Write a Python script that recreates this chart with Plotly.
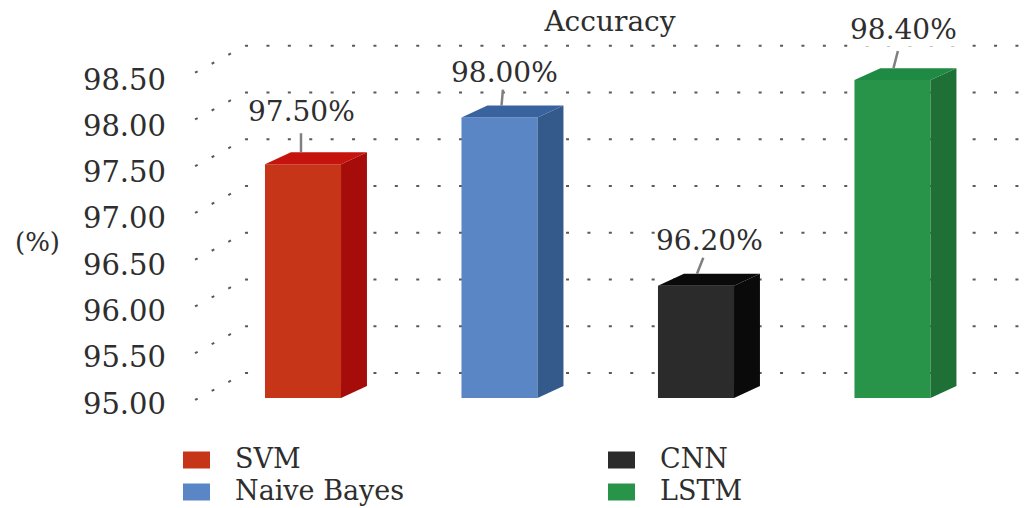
import plotly.graph_objects as go

# Chart data
models = ["SVM", "Naive Bayes", "CNN", "LSTM"]
accuracy = [97.5, 98.0, 96.2, 98.4]
tick_values = [95.0, 95.5, 96.0, 96.5, 97.0, 97.5, 98.0, 98.5]
legend_order = [0, 1, 2, 3]

# Face colours of each pseudo-3D column
front_colors = ["#C63517", "#5A86C5", "#2B2B2B", "#27944A"]
side_colors = ["#A50C0A", "#345A8B", "#0A0A0A", "#1E7036"]
top_colors = ["#C5130D", "#38639F", "#0A0A0A", "#1F8A43"]

BASE = 95.0
BAR_WIDTH = 0.387
DEPTH_X = 0.132
DEPTH_Y = 0.128
SERIF = "DejaVu Serif"
TEXT = "#2E2E2E"

# Wall geometry in axis units
WALL_LEFT = -0.5496
WALL_BACK = -0.295
WALL_RIGHT = 3.71
WALL_LIFT = 0.267
FLOOR_DROP = -0.021

# Value label placement in pixels, relative to the column's top edge
label_shift = [-2, 2, 1, 1]
label_dx = [0, 3, 13, 10]
label_dy = [-41, -33, -33, -39]
label_standoff = [5, 0, 0, 5]

fig = go.Figure()

# Front faces
for i, v in enumerate(accuracy):
    fig.add_trace(go.Bar(x=[i], y=[v - BASE], base=BASE, width=BAR_WIDTH, name=models[i],
                         marker=dict(color=front_colors[i], line_width=0), showlegend=False))

# Side and top faces
for i, v in enumerate(accuracy):
    l, r = i - BAR_WIDTH / 2, i + BAR_WIDTH / 2
    fig.add_trace(go.Scatter(x=[r, r + DEPTH_X, r + DEPTH_X, r, r],
                             y=[BASE, BASE + DEPTH_Y, v + DEPTH_Y, v, BASE],
                             mode="lines", fill="toself", fillcolor=side_colors[i],
                             line_width=0, hoverinfo="skip", showlegend=False))
    fig.add_trace(go.Scatter(x=[l, l + DEPTH_X, r + DEPTH_X, r, l],
                             y=[v, v + DEPTH_Y, v + DEPTH_Y, v, v],
                             mode="lines", fill="toself", fillcolor=top_colors[i],
                             line_width=0, hoverinfo="skip", showlegend=False))

# Carrier for the tick-label axis
fig.add_trace(go.Scatter(x=[0] * len(tick_values), y=tick_values, yaxis="y2", mode="lines",
                         line_width=0, hoverinfo="skip", showlegend=False))

# Dotted back wall and side wall lines
shapes = []
for t in tick_values:
    shapes.append(dict(type="line", layer="below", xref="x", yref="y",
                       x0=WALL_BACK, x1=WALL_RIGHT, y0=t + WALL_LIFT, y1=t + WALL_LIFT,
                       line=dict(color="#5A5A5A", width=2, dash="3px,18.4px")))
    shapes.append(dict(type="line", layer="below", xref="x", yref="y",
                       x0=WALL_LEFT, x1=WALL_BACK, y0=t + FLOOR_DROP, y1=t + WALL_LIFT,
                       line=dict(color="#5A5A5A", width=2, dash="3px,15.9px")))

annotations = []

# Value labels with leader lines
for i, v in enumerate(accuracy):
    annotations.append(dict(x=i, y=v + DEPTH_Y, xref="x", yref="y", xshift=label_shift[i],
                            text=f"{v:.2f}%", showarrow=True, arrowhead=0, arrowwidth=2.5,
                            arrowcolor="#808080", ax=label_dx[i], ay=label_dy[i],
                            startstandoff=label_standoff[i], bgcolor="white", borderpad=0,
                            font=dict(family=SERIF, size=28, color=TEXT)))

# Unit label beside the value axis
annotations.append(dict(x=(37 - 172) / 860, y=(484 - 242) / 484, xref="paper", yref="paper",
                        xanchor="center", yanchor="middle", text="(%)", showarrow=False,
                        font=dict(family=SERIF, size=26, color=TEXT)))

# Two-column legend
legend_x = [183, 183, 608, 608]
legend_y = [460, 492, 460, 492]
for k in legend_order:
    shapes.append(dict(type="rect", xref="paper", yref="paper", line_width=0,
                       fillcolor=front_colors[k],
                       x0=(legend_x[k] - 172) / 860, x1=(legend_x[k] + 27 - 172) / 860,
                       y0=(484 - legend_y[k] - 8.5) / 484, y1=(484 - legend_y[k] + 8.5) / 484))
    annotations.append(dict(x=(legend_x[k] + 51 - 172) / 860, y=(484 - legend_y[k] + 2) / 484,
                            xref="paper", yref="paper", xanchor="left", yanchor="middle",
                            text=models[k], showarrow=False, borderpad=0,
                            font=dict(family=SERIF, size=27, color=TEXT)))

fig.update_layout(
    width=1032, height=508, margin=dict(l=172, r=0, t=0, b=24),
    paper_bgcolor="white", plot_bgcolor="white", showlegend=False,
    title=dict(text="Accuracy", x=610 / 1032, y=1 - 21 / 508, xanchor="center", yanchor="middle",
               font=dict(family=SERIF, size=28, color=TEXT)),
    xaxis=dict(range=[-0.6667, 3.71], visible=False, fixedrange=True),
    yaxis=dict(range=[94.080, 99.2567], showgrid=False, zeroline=False, showticklabels=False,
               ticks="", showline=False, fixedrange=True),
    yaxis2=dict(range=[94.1307, 99.3572], overlaying="y", side="left", tickvals=tick_values,
                tickformat=".2f", showgrid=False, zeroline=False, ticks="", showline=False,
                tickfont=dict(family=SERIF, size=29, color=TEXT), ticklabelstandoff=5),
    shapes=shapes, annotations=annotations,
)

fig.write_html("out.html")
